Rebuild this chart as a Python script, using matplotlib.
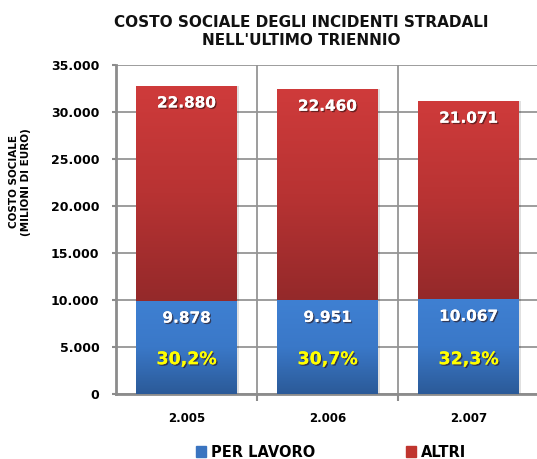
#!/usr/bin/env python3
# costo sociale incidenti stradali

import numpy as np
import matplotlib
matplotlib.use("Agg")
import matplotlib.pyplot as plt
import matplotlib.patheffects as pe
from matplotlib.patches import Rectangle
from matplotlib.colors import LinearSegmentedColormap

# Data
anni = ["2.005", "2.006", "2.007"]
per_lavoro = [9878, 9951, 10067]
altri = [22880, 22460, 21071]
lavoro_txt = ["9.878", "9.951", "10.067"]
altri_txt = ["22.880", "22.460", "21.071"]
quota_txt = ["30,2%", "30,7%", "32,3%"]
yticks = [0, 5000, 10000, 15000, 20000, 25000, 30000, 35000]
ytick_txt = ["0", "5.000", "10.000", "15.000", "20.000", "25.000", "30.000", "35.000"]

plt.rcParams['font.family'] = ['DejaVu Sans']
plt.rcParams['font.weight'] = 'bold'

fig = plt.figure(figsize=(5.37, 4.59), dpi=100)
ax = fig.add_axes([116 / 537, 65 / 459, 423 / 537, 329 / 459])

x = np.arange(len(anni))
w = 0.71

blue_cmap = LinearSegmentedColormap.from_list("b", ["#2b5a98", "#3a78c8", "#3f80d2"])
red_cmap = LinearSegmentedColormap.from_list("r", ["#94292a", "#b83333", "#cf3b3b"])
grad = np.linspace(0, 1, 256).reshape(-1, 1)

bars_b = ax.bar(x, per_lavoro, w, color="none", zorder=3)
bars_r = ax.bar(x, altri, w, bottom=per_lavoro, color="none", zorder=3)

for bars, cmap in [(bars_b, blue_cmap), (bars_r, red_cmap)]:
    for b in bars:
        x0, y0 = b.get_x(), b.get_y()
        bw, bh = b.get_width(), b.get_height()
        # soft shadow on the right side
        ax.add_patch(Rectangle((x0 + 0.015, y0), bw, bh, color="#000000",
                               alpha=0.12, zorder=2, lw=0))
        im = ax.imshow(grad, cmap=cmap, origin="lower", aspect="auto",
                       extent=[x0, x0 + bw, y0, y0 + bh], zorder=3)
        im.set_clip_path(b)

shadow = [pe.withSimplePatchShadow(offset=(1, -1), shadow_rgbFace="#2a1010", alpha=0.6),
          pe.Normal()]

for i in x:
    top = per_lavoro[i] + altri[i]
    ax.text(i, top - 1800, altri_txt[i], ha="center", va="center", color="white",
            fontsize=11, fontweight="bold", zorder=5, path_effects=shadow)
    ax.text(i, per_lavoro[i] - 1800, lavoro_txt[i], ha="center", va="center",
            color="white", fontsize=11, fontweight="bold", zorder=5, path_effects=shadow)
    ax.text(i, 3700, quota_txt[i], ha="center", va="center", color="#ffff00",
            fontsize=12.5, fontweight="bold", zorder=5, path_effects=shadow)

ax.set_xlim(-0.5, 2.5)
ax.set_ylim(0, 35000)
ax.set_yticks(yticks)
ax.set_yticklabels(ytick_txt, fontsize=9, fontweight="bold")
ax.set_xticks(x)
ax.set_xticklabels(anni, fontsize=8.5, fontweight="bold")
ax.tick_params(axis="x", length=0, pad=13)
ax.tick_params(axis="y", length=3, width=1.5, color="#8c8c8c", pad=9)
ax.set_xticks([0.5, 1.5], minor=True)
ax.tick_params(axis="x", which="minor", length=5, width=1.5, color="#8c8c8c")

ax.yaxis.grid(True, color="#959595", lw=1.3, zorder=0)
for xv in [0.5, 1.5, 2.5]:
    ax.axvline(xv, color="#959595", lw=1.3, zorder=1)
ax.set_axisbelow(True)

for s in ["top", "right"]:
    ax.spines[s].set_visible(False)
for s in ["left", "bottom"]:
    ax.spines[s].set_color("#8c8c8c")
    ax.spines[s].set_linewidth(2)

ax.set_ylabel("COSTO SOCIALE\n(MILIONI DI EURO)", fontsize=7.5, fontweight="bold",
              linespacing=1.25)
ax.yaxis.set_label_coords(-0.2, 0.645)

fig.text(0.561, 0.968, "COSTO SOCIALE DEGLI INCIDENTI STRADALI\nNELL'ULTIMO TRIENNIO",
         ha="center", va="top", fontsize=11, fontweight="bold", linespacing=1.3,
         color="#111111")

h1 = Rectangle((0, 0), 1, 1, color="#3a74c0")
h2 = Rectangle((0, 0), 1, 1, color="#c0352f")
fig.legend([h1, h2], ["PER LAVORO", "ALTRI"], loc="center", ncol=2,
           bbox_to_anchor=(0.616, 0.015), frameon=False, handlelength=0.75,
           handleheight=0.75, handletextpad=0.3, columnspacing=6.2,
           prop={"size": 10.5, "weight": "bold"})

fig.savefig("out.png", dpi=100)
